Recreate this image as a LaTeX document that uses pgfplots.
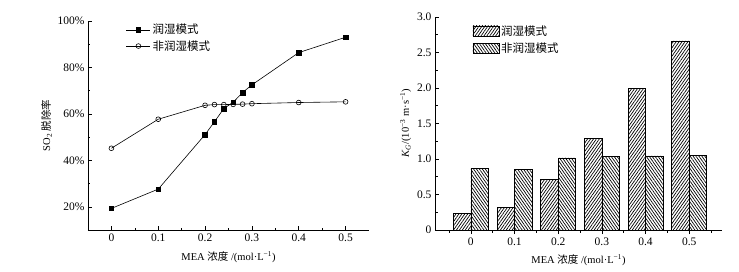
\documentclass[border=0pt]{standalone}
\usepackage{pgfplots}
\pgfplotsset{compat=1.18}
\usetikzlibrary{patterns.meta}
\usepackage{fontspec}
\setmainfont{Liberation Serif}
\newfontfamily\cjk{Noto Sans CJK SC}
\begin{document}
\begin{tikzpicture}[x=1pt,y=1pt]
\path[use as bounding box] (0,0) rectangle (739,271);
% ---------- left: line chart ----------
\begin{axis}[
  at={(88pt,41pt)}, anchor=south west,
  scale only axis, width=281pt, height=209pt,
  xmin=-0.05, xmax=0.55, ymin=10, ymax=100,
  axis x line*=bottom, axis y line*=left,
  xtick={0,0.1,0.2,0.3,0.4,0.5},
  xticklabels={0,0.1,0.2,0.3,0.4,0.5},
  minor x tick num=1,
  ytick={20,40,60,80,100},
  yticklabels={20\%,40\%,60\%,80\%,100\%},
  minor ytick={30,50,70,90},
  tick align=inside,
  major tick length=4pt, minor tick length=2.5pt,
  every tick/.style={black, line width=0.5pt},
  axis line style={line width=0.6pt},
  /pgf/number format/assume math mode=true,
  tick label style={font=\fontsize{11.5}{13}\selectfont},
  label style={font=\fontsize{10.5}{12}\selectfont},
  xlabel={MEA {\cjk 浓度} /(mol·L\textsuperscript{−1})},
  ylabel={SO\textsubscript{2} {\cjk 脱除率}},
  xlabel style={yshift=-3pt},
  ylabel style={yshift=-1pt},
  legend style={draw=none, fill=none, at={(axis description cs:0.135,0.995)}, anchor=north west,
    font=\fontsize{11.5}{12}\selectfont\cjk, row sep=1pt, inner sep=0pt},
  legend cell align=left,
  legend image code/.code={\draw[mark repeat=2,mark phase=2,#1] plot coordinates {(0pt,0pt)(12pt,0pt)(24pt,0pt)};},
]
\addplot[black, line width=0.6pt, mark=square*, mark size=2.3pt, mark options={fill=black}] coordinates {
(0,19.3) (0.1,27.6) (0.2,51.1) (0.22,56.6) (0.24,62.3) (0.26,65.0) (0.28,69.2) (0.3,72.5) (0.4,86.4) (0.5,93.0)};
\addlegendentry{润湿模式}
\addplot[black, line width=0.6pt, mark=o, mark size=2.4pt, mark options={fill=white}] coordinates {
(0,45.2) (0.1,57.7) (0.2,63.7) (0.22,64.0) (0.24,64.0) (0.26,64.1) (0.28,64.2) (0.3,64.4) (0.4,64.9) (0.5,65.2)};
\addlegendentry{非润湿模式}
\end{axis}
% ---------- right: bar chart ----------
\begin{axis}[
  at={(435pt,41pt)}, anchor=south west,
  scale only axis, width=287pt, height=213.2pt,
  xmin=-0.82, xmax=5.75, ymin=0, ymax=3.0,
  axis x line*=bottom, axis y line*=left,
  xtick={0,1,2,3,4,5},
  xticklabels={0,0.1,0.2,0.3,0.4,0.5},
  minor xtick={-0.5,0.5,1.5,2.5,3.5,4.5,5.5},
  ytick={0,0.5,1.0,1.5,2.0,2.5,3.0},
  yticklabels={0,0.5,1.0,1.5,2.0,2.5,3.0},
  minor ytick={0.25,0.75,1.25,1.75,2.25,2.75},
  tick align=inside,
  major tick length=4pt, minor tick length=2.5pt,
  every tick/.style={black, line width=0.5pt},
  axis line style={line width=0.6pt},
  /pgf/number format/assume math mode=true,
  tick label style={font=\fontsize{11.5}{13}\selectfont},
  label style={font=\fontsize{10.5}{12}\selectfont},
  xlabel={MEA {\cjk 浓度} /(mol·L\textsuperscript{−1})},
  ylabel={\textit{K}\textsubscript{\textit{G}}/(10\textsuperscript{−3} m·s\textsuperscript{−1})},
  xlabel style={yshift=-2pt},
  ylabel style={yshift=-1pt},
  ybar, bar width=17.5pt,
  legend style={draw=none, fill=none, at={(axis description cs:0.13,0.97)}, anchor=north west,
    font=\fontsize{11.5}{12}\selectfont\cjk, row sep=2pt, inner sep=0pt},
  legend cell align=left,
  legend image code/.code={\draw[#1] (0pt,-5pt) rectangle (26pt,5pt);},
]
\addplot[draw=black, line width=0.6pt, bar shift=-8.75pt,
  pattern={Lines[angle=55,distance=2.4pt,line width=0.7pt]}] coordinates {
(0,0.235) (1,0.32) (2,0.714) (3,1.29) (4,1.995) (5,2.66)};
\addlegendentry{润湿模式}
\addplot[draw=black, line width=0.6pt, bar shift=8.75pt,
  pattern={Lines[angle=-55,distance=2.4pt,line width=0.7pt]}] coordinates {
(0,0.87) (1,0.855) (2,1.014) (3,1.032) (4,1.042) (5,1.052)};
\addlegendentry{非润湿模式}
\end{axis}
\end{tikzpicture}
\end{document}
